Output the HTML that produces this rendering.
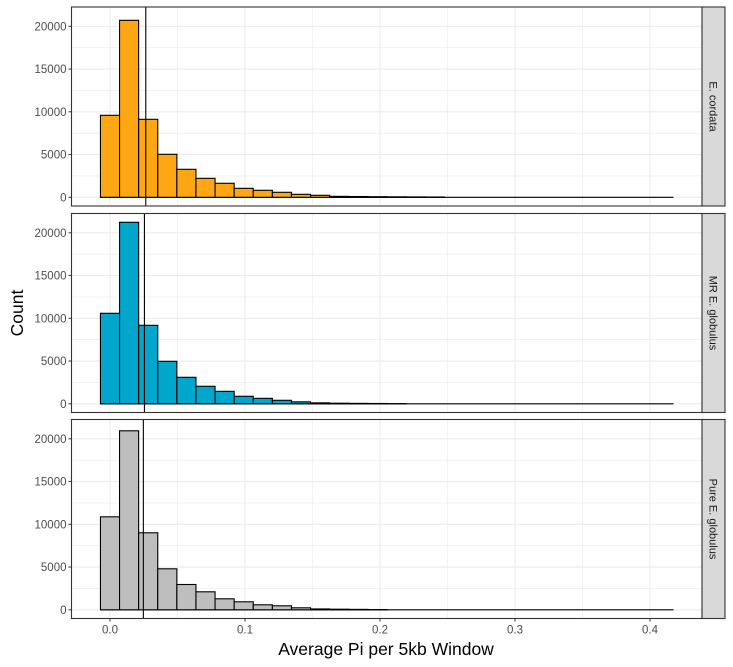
<!DOCTYPE html>
<html><head><meta charset="utf-8"><style>
body{margin:0;background:#fff;}
svg{display:block;font-family:"Liberation Sans",sans-serif;}
</style></head><body>
<svg id="chart" width="733" height="667" viewBox="0 0 733 667"></svg>
<script>
const panelLabels = ["E. cordata", "MR E. globulus", "Pure E. globulus"];
const panelColors = ["#FFA615", "#00A6CC", "#BEBEBE"];
const meanLines = [0.0265, 0.0255, 0.0247];
const binWidth = 0.01415;
const countsCordata = [9590,20700,9120,5030,3275,2220,1640,1050,820,585,350,234,110,90,70,55,45,35,0,0,0,0,0,0,0,0,0,0,0,0];
const countsMR = [10585,21230,9180,4970,3100,2050,1460,880,640,410,230,110,70,50,35,20,0,0,0,0,0,0,0,0,0,0,0,0,0,0];
const countsPure = [10877,20935,9006,4795,2960,2105,1287,936,585,468,234,100,70,50,30,0,0,0,0,0,0,0,0,0,0,0,0,0,0,0];
const yTicks = [0,5000,10000,15000,20000];
const xTicks = [0.0,0.1,0.2,0.3,0.4];
const allCounts = [countsCordata, countsMR, countsPure];

const NS="http://www.w3.org/2000/svg";
const svg=document.getElementById('chart');
function mk(tag,attrs,parent){const e=document.createElementNS(NS,tag);for(const k in attrs)e.setAttribute(k,attrs[k]);(parent||svg).appendChild(e);return e;}
const PL=71.5, PR=702, SR=725;
const panelTops=[7,213.5,419.5], panelH=199;
const xS=v=>110+v*1350;
const yS=(p,v)=>panelTops[p]+190.3-v*171/20000;

for(let p=0;p<3;p++){
  const top=panelTops[p];
  const g=mk('g',{});
  
  
  mk('rect',{x:PL,y:top,width:PR-PL,height:panelH,fill:'#fff'},g);
  for(let v=2500;v<=22500;v+=5000){const y=yS(p,v);if(y>top)mk('line',{x1:PL,x2:PR,y1:y,y2:y,stroke:'#ebebeb','stroke-width':0.6},g);}
  for(let v=-0.05;v<=0.45;v+=0.1){const x=xS(v);if(x>PL&&x<PR)mk('line',{x1:x,x2:x,y1:top,y2:top+panelH,stroke:'#ebebeb','stroke-width':0.6},g);}
  yTicks.forEach(v=>{const y=yS(p,v);mk('line',{x1:PL,x2:PR,y1:y,y2:y,stroke:'#ebebeb','stroke-width':1.1},g);
    mk('line',{x1:PL-3,x2:PL,y1:y,y2:y,stroke:'#333','stroke-width':1},g);
    const t=mk('text',{x:PL-5,y:y+4,'text-anchor':'end','font-size':11.5,fill:'#4d4d4d'},g);t.textContent=v;
    });
  xTicks.forEach(v=>{const x=xS(v);mk('line',{x1:x,x2:x,y1:top,y2:top+panelH,stroke:'#ebebeb','stroke-width':1.1},g);});
  const n=allCounts[p].length;
  const bl=mk('line',{x1:xS(-0.5*binWidth),x2:xS((n-0.5)*binWidth),y1:yS(p,0),y2:yS(p,0),stroke:'#000','stroke-width':1.1},g);
  
  allCounts[p].forEach((c,i)=>{
    if(c<=0)return;
    const x0=xS((i-0.5)*binWidth), x1=xS((i+0.5)*binWidth);
    const r=mk('rect',{x:x0,y:yS(p,c),width:x1-x0,height:yS(p,0)-yS(p,c),fill:panelColors[p],stroke:'#000','stroke-width':1.1},g);
    
  });
  const ml=mk('line',{x1:xS(meanLines[p]),x2:xS(meanLines[p]),y1:top,y2:top+panelH,stroke:'#000','stroke-width':1.1},g);
  
  mk('rect',{x:PL,y:top,width:PR-PL,height:panelH,fill:'none',stroke:'#333','stroke-width':1.1},g);
  const s=mk('rect',{x:PR,y:top,width:SR-PR,height:panelH,fill:'#d9d9d9',stroke:'#333','stroke-width':1.1},g);
  
  const cy=top+panelH/2, cx=(PR+SR)/2;
  const st=mk('text',{x:cx,y:cy,'text-anchor':'middle','font-size':11,fill:'#1a1a1a',transform:`rotate(90 ${cx} ${cy})`,dy:4},g);
  st.textContent=panelLabels[p];
}
const bottom=panelTops[2]+panelH;
xTicks.forEach(v=>{const x=xS(v);mk('line',{x1:x,x2:x,y1:bottom,y2:bottom+3,stroke:'#333'});
  const t=mk('text',{x:x,y:bottom+15,'text-anchor':'middle','font-size':11.5,fill:'#4d4d4d'});t.textContent=v.toFixed(1);
  });
const xt=mk('text',{x:386,y:655,'text-anchor':'middle','font-size':17.5,fill:'#000'});xt.textContent='Average Pi per 5kb Window';

const yt=mk('text',{x:23,y:313,'text-anchor':'middle','font-size':17.5,fill:'#000',transform:'rotate(-90 23 313)'});yt.textContent='Count';

</script>
</body></html>
